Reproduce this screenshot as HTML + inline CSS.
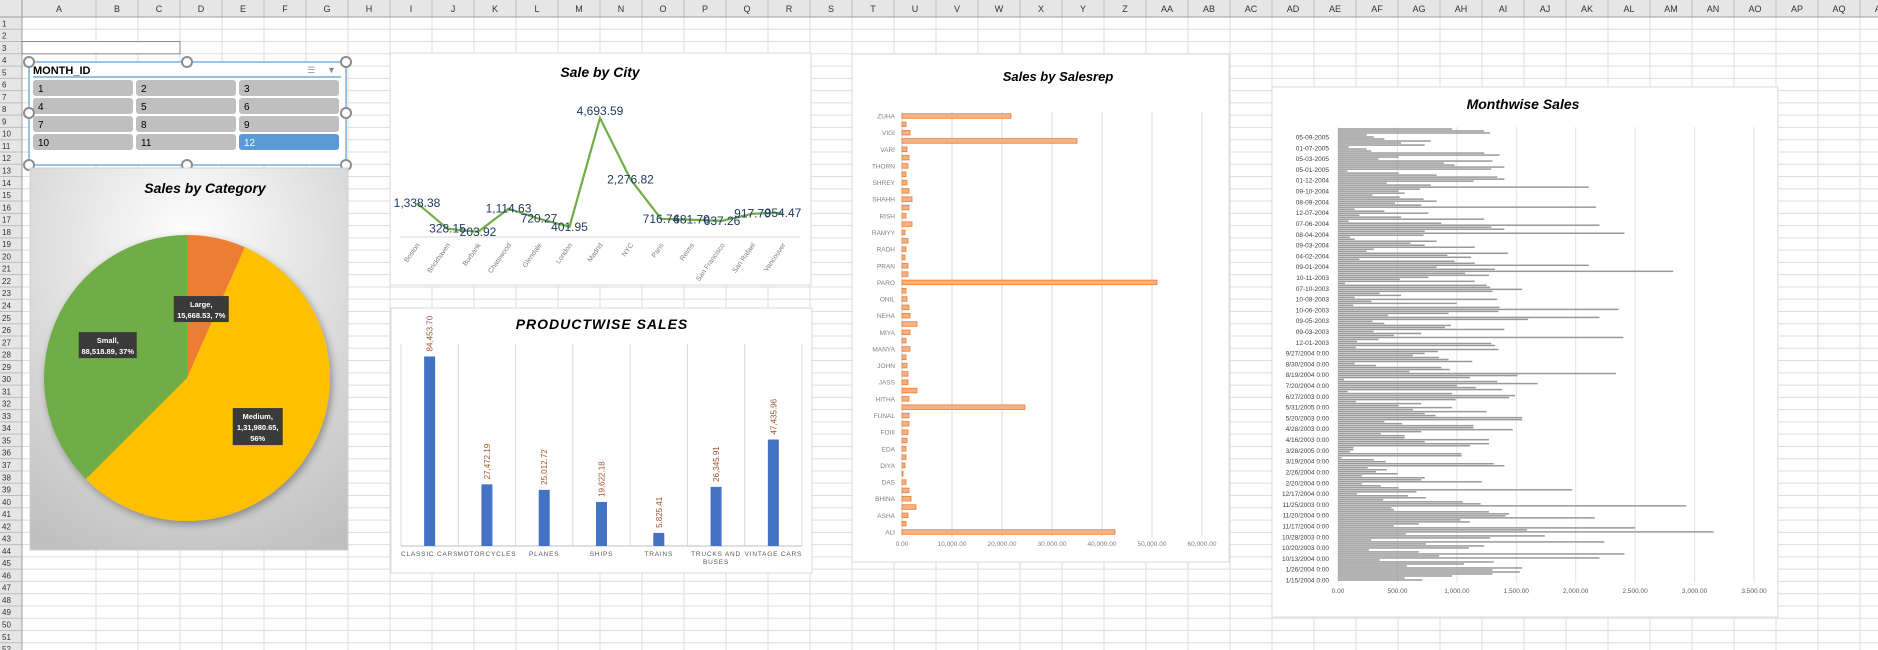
<!DOCTYPE html>
<html><head><meta charset="utf-8"><style>
html,body{margin:0;padding:0;background:#fff;}
svg{display:block;font-family:"Liberation Sans",sans-serif;}
</style></head><body>
<svg id="s" width="1878" height="650" viewBox="0 0 1878 650" xmlns="http://www.w3.org/2000/svg">
<defs>
<radialGradient id="catbg" cx="50%" cy="20%" r="90%"><stop offset="0" stop-color="#ffffff"/><stop offset="1" stop-color="#bfbfbf"/></radialGradient>
<filter id="sh" x="-20%" y="-20%" width="140%" height="140%"><feDropShadow dx="2" dy="3" stdDeviation="4" flood-color="#000" flood-opacity="0.35"/></filter>
</defs>
<g id="grid"></g>
<g id="charts"></g>
</svg>
<script>
// ---------- data ----------
const cityNames = ["Boston","Brickhaven","Burbank","Chatswood","Glendale","London","Madrid","NYC","Paris","Reims","San Francisco","San Rafael","Vancouver"];
const cityValues = [1338.38,328.15,203.92,1114.63,720.27,401.95,4693.59,2276.82,716.74,681.70,637.26,917.70,954.47];
const cityLabels = ["1,338.38","328.15","203.92","1,114.63","720.27","401.95","4,693.59","2,276.82","716.74","681.70","637.26","917.70","954.47"];

const productNames = ["CLASSIC CARS","MOTORCYCLES","PLANES","SHIPS","TRAINS","TRUCKS AND|BUSES","VINTAGE CARS"];
const productValues = [84453.70,27472.19,25012.72,19622.18,5825.41,26345.91,47435.96];
const productLabels = ["84,453.70","27,472.19","25,012.72","19,622.18","5,825.41","26,345.91","47,435.96"];

const catNames = ["Large","Medium","Small"];
const catValues = [15668.53,131980.65,88518.89];
const catLabels = [["Large,","15,668.53, 7%"],["Medium,","1,31,980.65,","56%"],["Small,","88,518.89, 37%"]];

const repLabels = ["ZUHA","","VIGI","","VARI","","THORN","","SHREY","","SHAHH","","RISH","","RAMYY","","RADH","","PRAN","","PARO","","ONIL","","NEHA","","MIYA","","MANYA","","JOHN","","JASS","","HITHA","","FUNAL","","FOIII","","EDA","","DIYA","","DAS","","BHINA","","ASHA","","ALI"];
const repValues = [21800,800,1600,35000,1000,1400,1200,800,1000,1400,2000,1400,800,2000,600,1200,800,600,1200,1200,51000,800,1000,1400,1600,3000,1600,800,1600,800,1000,1200,1200,3000,1400,24600,1400,1400,1200,1000,800,800,600,200,800,1400,1800,2800,1200,800,42600];
const repTicks = [0,10000,20000,30000,40000,50000,60000];
const repTickLabels = ["0.00","10,000.00","20,000.00","30,000.00","40,000.00","50,000.00","60,000.00"];

const monthValues = [960,1230,1280,240,300,390,780,530,730,90,240,280,1230,1360,510,340,1300,890,980,1400,1290,80,510,830,1340,1400,1140,410,780,2110,690,510,560,290,520,720,830,480,700,2170,140,390,760,180,530,1230,90,870,2200,1290,1400,730,2410,720,100,140,830,610,730,1150,300,240,1430,920,1120,180,980,1150,2110,830,1320,2820,1070,1270,760,520,1150,60,1250,1280,1550,1300,350,530,140,1340,280,1000,130,1360,2360,1350,930,420,2200,1600,290,390,950,900,1400,300,700,470,2400,340,160,1290,1320,150,1350,840,730,630,850,930,1130,140,320,870,940,600,2340,1510,1110,50,1340,1680,1000,1160,1380,80,960,1490,1440,990,150,700,510,960,630,1250,730,820,1550,1550,390,540,1140,1140,1470,700,360,560,560,1270,730,1270,1110,130,130,100,1040,1040,30,300,400,1310,1400,250,410,320,500,200,730,700,1210,200,360,510,1970,660,160,590,740,380,1050,1200,2930,450,470,1270,1440,1410,2160,1030,1110,680,470,2500,1590,3160,570,1740,1280,280,2240,740,1230,1100,260,680,2410,850,2200,350,1310,1060,580,1550,1300,1530,1300,960,560,710];
const monthLabels = ["05-09-2005","01-07-2005","05-03-2005","05-01-2005","01-12-2004","09-10-2004","08-09-2004","12-07-2004","07-06-2004","08-04-2004","09-03-2004","04-02-2004","09-01-2004","10-11-2003","07-10-2003","10-08-2003","10-06-2003","09-05-2003","09-03-2003","12-01-2003","9/27/2004 0:00","8/30/2004 0:00","8/19/2004 0:00","7/20/2004 0:00","6/27/2003 0:00","5/31/2005 0:00","5/20/2003 0:00","4/28/2003 0:00","4/16/2003 0:00","3/28/2005 0:00","3/19/2004 0:00","2/26/2004 0:00","2/20/2004 0:00","12/17/2004 0:00","11/25/2003 0:00","11/20/2004 0:00","11/17/2004 0:00","10/28/2003 0:00","10/20/2003 0:00","10/13/2004 0:00","1/26/2004 0:00","1/15/2004 0:00"];
const monthTicks = [0,500,1000,1500,2000,2500,3000,3500];
const monthTickLabels = ["0.00","500.00","1,000.00","1,500.00","2,000.00","2,500.00","3,000.00","3,500.00"];

const sliceItems = ["1","2","3","4","5","6","7","8","9","10","11","12"];
const colNames = ["A","B","C","D","E","F","G","H","I","J","K","L","M","N","O","P","Q","R","S","T","U","V","W","X","Y","Z","AA","AB","AC","AD","AE","AF","AG","AH","AI","AJ","AK","AL","AM","AN","AO","AP","AQ","AR"];

// ---------- helpers ----------
const NS="http://www.w3.org/2000/svg";
function mk(tag,attrs,parent,text){const e=document.createElementNS(NS,tag);for(const k in attrs)e.setAttribute(k,attrs[k]);if(text!==undefined)e.textContent=text;(parent||document.getElementById('charts')).appendChild(e);return e;}

// ---------- sheet grid ----------
const G=document.getElementById('grid');
const HDR=17, RH=12.27, RW=22;
function colX(i){return i===0?RW:96+(i-1)*42;}
mk('rect',{x:0,y:0,width:1878,height:HDR,fill:'#e6e6e6'},G);
mk('rect',{x:0,y:0,width:RW,height:650,fill:'#e6e6e6'},G);
for(let i=0;i<colNames.length;i++){
  const x=colX(i), w=(i===0?74:42);
  mk('line',{x1:x+w,y1:HDR,x2:x+w,y2:650,stroke:'#dedede','stroke-width':1},G);
  mk('line',{x1:x+w,y1:0,x2:x+w,y2:HDR,stroke:'#bdbdbd','stroke-width':1},G);
  const t=mk('text',{x:x+w/2,y:12,'text-anchor':'middle','font-size':9,fill:'#333'},G,colNames[i]);
  
  
}
for(let r=1;r<=53;r++){
  const y=HDR+r*RH;
  mk('line',{x1:RW,y1:y,x2:1878,y2:y,stroke:'#dedede','stroke-width':1},G);
  mk('line',{x1:0,y1:y,x2:RW,y2:y,stroke:'#bdbdbd','stroke-width':1},G);
  const t=mk('text',{x:2,y:y-3,'font-size':8,fill:'#333'},G,String(r));
  
  
}
mk('line',{x1:0,y1:HDR,x2:1878,y2:HDR,stroke:'#9e9e9e'},G);
mk('line',{x1:RW,y1:0,x2:RW,y2:650,stroke:'#9e9e9e'},G);
mk('rect',{x:RW,y:HDR+2*RH,width:158,height:RH,fill:'#fff',stroke:'#8a8a8a','stroke-width':1},G);

// ---------- slicer ----------
const sl=mk('g',{});


mk('rect',{x:29,y:62,width:317,height:103,fill:'#fff',stroke:'#5b9bd5','stroke-width':1.2},sl);
mk('text',{x:33,y:74,'font-size':11,'font-weight':'bold',fill:'#000'},sl,'MONTH_ID');
mk('line',{x1:33,y1:77,x2:341,y2:77,stroke:'#5b9bd5','stroke-width':1.2},sl);
mk('text',{x:307,y:73,'font-size':9,fill:'#999'},sl,'☰');
mk('text',{x:327,y:73,'font-size':9,fill:'#888'},sl,'▼');
const bx=[33,136,239], by=[80,98,116,134];
sliceItems.forEach((s,i)=>{
  const c=i%3, r=Math.floor(i/3), sel=(s==="12");
  const b=mk('g',{},sl);
  
  
  mk('rect',{x:bx[c],y:by[r],width:100,height:16,rx:3,fill:sel?'#5b9bd5':'#bfbfbf'},b);
  mk('text',{x:bx[c]+5,y:by[r]+12,'font-size':10,fill:sel?'#fff':'#000'},b,s);
});
[[29,62],[187,62],[346,62],[29,113],[346,113],[29,165],[187,165],[346,165]].forEach(p=>{
  const h=mk('circle',{cx:p[0],cy:p[1],r:5,fill:'#fff',stroke:'#8c8c8c','stroke-width':2},sl);
  
  
});

// ---------- Sales by Category (pie) ----------
const pc=mk('g',{});


mk('rect',{x:30,y:168,width:318,height:382,fill:'url(#catbg)',stroke:'#d0d0d0'},pc);
const pt=mk('text',{x:205,y:193,'text-anchor':'middle','font-size':14,'font-weight':'bold','font-style':'italic',fill:'#000'},pc,'Sales by Category');


const pcx=187,pcy=378,pr=143;
const catColors=['#ed7d31','#ffc000','#70ad47'];
const catTotal=catValues.reduce((a,b)=>a+b,0);
let ang=0;
const pieG=mk('g',{filter:'url(#sh)'},pc);
catValues.forEach((v,i)=>{
  const a0=ang, a1=ang+v/catTotal*2*Math.PI; ang=a1;
  const x0=pcx+pr*Math.sin(a0), y0=pcy-pr*Math.cos(a0), x1=pcx+pr*Math.sin(a1), y1=pcy-pr*Math.cos(a1);
  const p=mk('path',{d:`M${pcx},${pcy} L${x0},${y0} A${pr},${pr} 0 ${a1-a0>Math.PI?1:0} 1 ${x1},${y1} Z`,fill:catColors[i]},pieG);
  
  
});
ang=0;
catValues.forEach((v,i)=>{
  const frac=v/catTotal, mid=ang+frac*Math.PI; ang+=frac*2*Math.PI;
  const rr=(i===0)?0.55:0.6;
  const lx=pcx+pr*rr*Math.sin(mid)+(i===0?-2:0), ly=pcy-pr*rr*Math.cos(mid)+(i===0?8:0);
  const lines=catLabels[i];
  const w=i===1?50:(i===0?55:58), h=lines.length*11+4;
  const lg=mk('g',{},pc);
  
  
  mk('rect',{x:lx-w/2,y:ly-h/2,width:w,height:h,fill:'#3a3a3a'},lg);
  lines.forEach((t,k)=>mk('text',{x:lx,y:ly-h/2+11+k*11,'text-anchor':'middle','font-size':7.5,'font-weight':'bold',fill:'#fff'},lg,t));
});

// ---------- Sale by City (line) ----------
const lc=mk('g',{});


mk('rect',{x:390,y:53,width:421,height:232,fill:'#fff',stroke:'#d9d9d9'},lc);
const lt=mk('text',{x:600,y:77,'text-anchor':'middle','font-size':14,'font-weight':'bold','font-style':'italic',fill:'#000'},lc,'Sale by City');


const cX0=417,cStep=30.5,cBase=237,cMax=4693.59,cTop=118;
const cx=i=>cX0+i*cStep, cy=v=>cBase-(v/cMax)*(cBase-cTop);
mk('line',{x1:400,y1:cBase,x2:800,y2:cBase,stroke:'#d9d9d9'},lc);
const line=mk('polyline',{points:cityValues.map((v,i)=>cx(i)+','+cy(v)).join(' '),fill:'none',stroke:'#70ad47','stroke-width':2.2},lc);


cityValues.forEach((v,i)=>{
  const t=mk('text',{x:cx(i),y:cy(v)+(i===6?-3:4),'text-anchor':'middle','font-size':12,fill:'#203864'},lc,cityLabels[i]);
  
  
  const c=mk('text',{x:cx(i)+3,y:cBase+8,'text-anchor':'end','font-size':7,fill:'#7f7f7f',transform:`rotate(-55 ${cx(i)+3} ${cBase+8})`},lc,cityNames[i]);
  
  
});

// ---------- Productwise sales (column) ----------
const bc=mk('g',{});


mk('rect',{x:391,y:308,width:421,height:265,fill:'#fff',stroke:'#d9d9d9'},bc);
const bt=mk('text',{x:602,y:329,'text-anchor':'middle','font-size':14,'font-weight':'bold','font-style':'italic',fill:'#000','letter-spacing':'1'},bc,'PRODUCTWISE SALES');


const pL=401,pR=802,pB=546,pT=344,pMax=90000;
const pw=(pR-pL)/productValues.length;
const py=v=>pB-v/pMax*(pB-pT);
for(let i=0;i<=productValues.length;i++) mk('line',{x1:pL+i*pw,y1:pT,x2:pL+i*pw,y2:pB,stroke:'#d9d9d9'},bc);
mk('line',{x1:pL,y1:pB,x2:pR,y2:pB,stroke:'#bfbfbf'},bc);
productValues.forEach((v,i)=>{
  const xc=pL+(i+0.5)*pw;
  const r=mk('rect',{x:xc-5.5,y:py(v),width:11,height:pB-py(v),fill:'#4472c4'},bc);
  
  
  const t=mk('text',{x:xc+3,y:py(v)-5,'font-size':8,fill:'#a0522d',transform:`rotate(-90 ${xc+3} ${py(v)-5})`},bc,productLabels[i]);
  
  
  productNames[i].split('|').forEach((s,k)=>{
    const c=mk('text',{x:xc,y:pB+10+k*8,'text-anchor':'middle','font-size':6.5,fill:'#595959','letter-spacing':'0.8'},bc,s);
    
    
  });
});

// ---------- Sales by Salesrep (bar) ----------
const sc=mk('g',{});


mk('rect',{x:852,y:54,width:377,height:508,fill:'#fff',stroke:'#d9d9d9'},sc);
const st=mk('text',{x:1058,y:81,'text-anchor':'middle','font-size':13,'font-weight':'bold','font-style':'italic',fill:'#000'},sc,'Sales by Salesrep');


const sX0=902,sX1=1202,sMax=60000,sY0=116,sY1=532;
const sx=v=>sX0+v/sMax*(sX1-sX0);
const sStep=(sY1-sY0)/(repValues.length-1);
repTicks.forEach((t,i)=>{
  mk('line',{x1:sx(t),y1:112,x2:sx(t),y2:536,stroke:'#d9d9d9'},sc);
  const tl=mk('text',{x:sx(t),y:546,'text-anchor':'middle','font-size':6.5,fill:'#7f7f7f'},sc,repTickLabels[i]);
  
  
});
repValues.forEach((v,i)=>{
  const y=sY0+i*sStep;
  const r=mk('rect',{x:sX0,y:y-2.3,width:sx(v)-sX0,height:4.6,fill:'#f4b183',stroke:'#ed7d31','stroke-width':0.8},sc);
  
  
  if(repLabels[i]){
    const t=mk('text',{x:895,y:y+2.5,'text-anchor':'end','font-size':6.5,fill:'#7f7f7f'},sc,repLabels[i]);
    
    
  }
});

// ---------- Monthwise sales ----------
const mc=mk('g',{});


mk('rect',{x:1272,y:87,width:506,height:530,fill:'#fff',stroke:'#d9d9d9'},mc);
const mt=mk('text',{x:1523,y:109,'text-anchor':'middle','font-size':14,'font-weight':'bold','font-style':'italic',fill:'#000'},mc,'Monthwise Sales');


const mX0=1338,mX1=1754,mMax=3500,mY0=129,mY1=580;
const mx=v=>mX0+v/mMax*(mX1-mX0);
const mStep=(mY1-mY0)/(monthValues.length-1);
monthTicks.forEach((t,i)=>{
  mk('line',{x1:mx(t),y1:127,x2:mx(t),y2:583,stroke:'#dde3ea'},mc);
  const tl=mk('text',{x:mx(t),y:593,'text-anchor':'middle','font-size':6.5,fill:'#595959'},mc,monthTickLabels[i]);
  
  
});
monthValues.forEach((v,i)=>{
  const r=mk('rect',{x:mX0,y:mY0+i*mStep-0.75,width:mx(v)-mX0,height:1.5,fill:'#999999'},mc);
  
  
});
monthLabels.forEach((s,k)=>{
  const idx=4+k*(monthValues.length-1-4)/(monthLabels.length-1);
  const t=mk('text',{x:1329,y:mY0+idx*mStep+2.5,'text-anchor':'end','font-size':6.5,fill:'#404040'},mc,s);
  
  
});
</script>
</body></html>
